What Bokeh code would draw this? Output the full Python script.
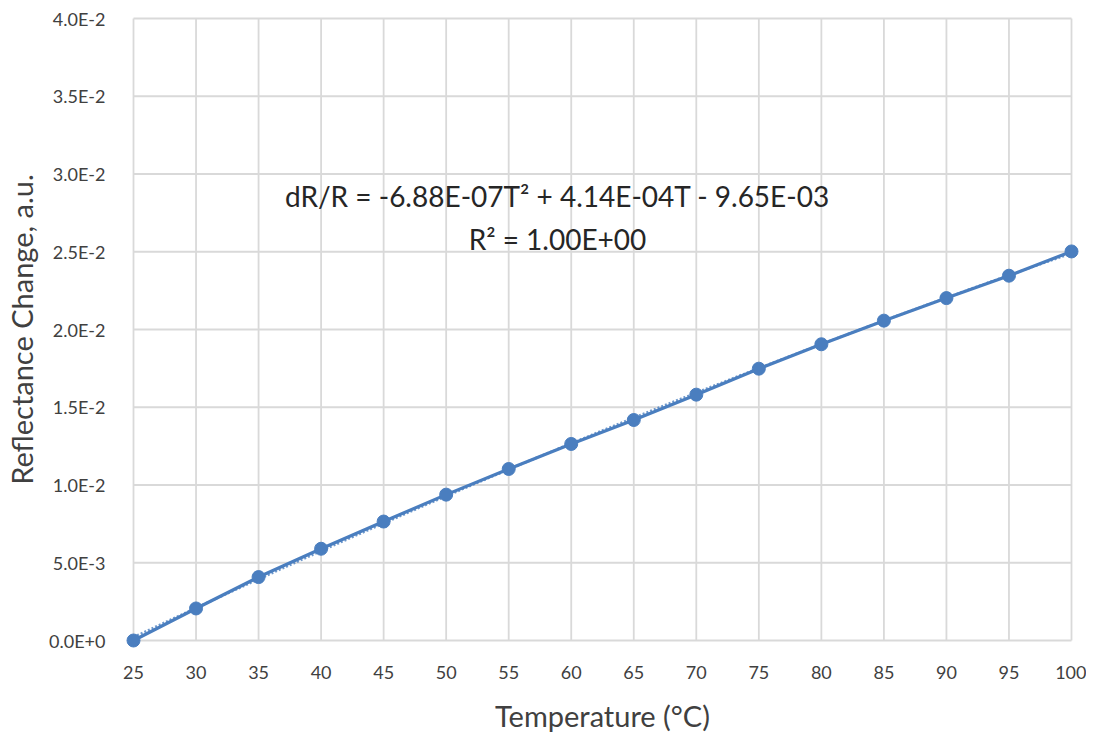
import numpy as np
from bokeh.plotting import figure
from bokeh.models import Range1d, CustomJSTickFormatter, FixedTicker, Label
from bokeh.embed import file_html
from bokeh.resources import INLINE

temperature = [25, 30, 35, 40, 45, 50, 55, 60, 65, 70, 75, 80, 85, 90, 95, 100]
reflectance_change = [0.0, 0.00206, 0.00408, 0.00590, 0.00765, 0.00938, 0.01103, 0.01264,
                       0.01418, 0.01581, 0.01748, 0.01905, 0.02057, 0.02202, 0.02346, 0.02502]
x_ticks = list(range(25, 101, 5))
y_ticks = [0.0, 0.005, 0.01, 0.015, 0.02, 0.025, 0.03, 0.035, 0.04]
eq_line1 = "dR/R = -6.88E-07T\u00b2 + 4.14E-04T - 9.65E-03"
eq_line2 = "R\u00b2 = 1.00E+00"

FONT = "Lato"
TXT = "#404040"
BLUE = "#4a7ebf"
GRID = "#d9d9d9"

x_lo, x_hi = x_ticks[0], x_ticks[-1]
y_lo, y_hi = y_ticks[0], y_ticks[-1]
# small padding so that markers at the edges are not clipped
dx = (x_hi - x_lo) * 8 / 938
dy = (y_hi - y_lo) * 8 / 622

p = figure(width=1086, height=738, output_backend="svg", toolbar_location=None,
           x_range=Range1d(x_lo - dx, x_hi + dx), y_range=Range1d(y_lo - dy, y_hi + dy),
           min_border_left=125, min_border_right=7, min_border_top=10, min_border_bottom=90)
p.outline_line_color = None
p.background_fill_color = "white"
p.xgrid.grid_line_color = None
p.ygrid.grid_line_color = None

p.xaxis.ticker = FixedTicker(ticks=x_ticks)
p.yaxis.ticker = FixedTicker(ticks=y_ticks)
p.yaxis.formatter = CustomJSTickFormatter(code="return tick.toExponential(1).toUpperCase();")

for ax in (p.xaxis, p.yaxis):
    ax.axis_line_color = None
    ax.major_tick_line_color = None
    ax.minor_tick_line_color = None
    ax.major_label_text_font = FONT
    ax.major_label_text_font_size = "18px"
    ax.major_label_text_color = TXT
    ax.axis_label_text_font = FONT
    ax.axis_label_text_font_size = "29px"
    ax.axis_label_text_font_style = "normal"
    ax.axis_label_text_color = TXT

p.xaxis.axis_label = "Temperature (\u00b0C)"
p.yaxis.axis_label = "Reflectance Change, a.u."
p.xaxis.major_label_standoff = 11
p.yaxis.major_label_standoff = 14
p.xaxis.axis_label_standoff = 16
p.yaxis.axis_label_standoff = 7

# gridlines spanning exactly the tick extent
p.segment(x0=x_ticks, x1=x_ticks, y0=[y_lo] * len(x_ticks), y1=[y_hi] * len(x_ticks),
          line_color=GRID, line_width=1.8)
p.segment(x0=[x_lo] * len(y_ticks), x1=[x_hi] * len(y_ticks), y0=y_ticks, y1=y_ticks,
          line_color=GRID, line_width=1.8)

# polynomial (order 2) trendline, fitted to the data
coef = np.polyfit(temperature, reflectance_change, 2)
tx = np.linspace(x_lo, x_hi, 200)
p.line(tx, np.polyval(coef, tx), line_color=BLUE, line_width=2.5, line_dash="2 2", line_alpha=0.8)

p.line(temperature, reflectance_change, line_color=BLUE, line_width=3.2)
p.scatter(temperature, reflectance_change, size=13, fill_color=BLUE, line_color=BLUE)

p.add_layout(Label(x=58.9, y=0.02857, text=eq_line1, text_align="center", text_baseline="middle",
                   text_font=FONT, text_font_size="28px", text_color="#262626"))
p.add_layout(Label(x=58.9, y=0.02581, text=eq_line2, text_align="center", text_baseline="middle",
                   text_font=FONT, text_font_size="28px", text_color="#262626"))

open("out.html", "w").write(file_html(p, INLINE))
